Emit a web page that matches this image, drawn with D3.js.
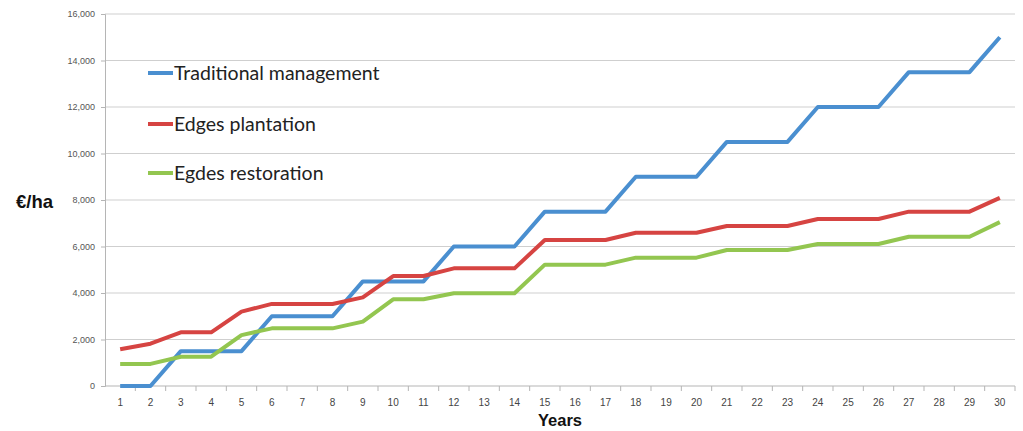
<!DOCTYPE html>
<html>
<head>
<meta charset="utf-8">
<script src="https://cdn.jsdelivr.net/npm/d3@7"></script>
<style>
  body { margin: 0; background: #fff; }
  svg { display: block; }
</style>
</head>
<body>
<div id="chart"></div>
<script>
// data
var years = d3.range(1, 31);
var traditional = [0, 0, 1500, 1500, 1500, 3000, 3000, 3000, 4500, 4500, 4500, 6000, 6000, 6000, 7500,
                   7500, 7500, 9000, 9000, 9000, 10500, 10500, 10500, 12000, 12000, 12000, 13500, 13500, 13500, 15000];
var plantation = [1580, 1820, 2310, 2310, 3200, 3530, 3530, 3530, 3810, 4730, 4730, 5060, 5060, 5060, 6280,
                  6280, 6280, 6590, 6590, 6590, 6880, 6880, 6880, 7180, 7180, 7180, 7500, 7500, 7500, 8090];
var restoration = [950, 950, 1260, 1260, 2190, 2480, 2480, 2480, 2770, 3730, 3730, 3990, 3990, 3990, 5220,
                   5220, 5220, 5520, 5520, 5520, 5850, 5850, 5850, 6110, 6110, 6110, 6420, 6420, 6420, 7050];
var series_names = ['Traditional management', 'Edges plantation', 'Egdes restoration'];
var series_colors = ['#4a8fd0', '#d64442', '#93c650'];
var y_ticks = [0, 2000, 4000, 6000, 8000, 10000, 12000, 14000, 16000];

var width = 1023, height = 431;
// note: "top" is taken by window.top, so plot edges get their own names
var plot_left = 105, plot_right = 1015, plot_top = 14, plot_bottom = 386;

var svg = d3.select('#chart').append('svg')
    .attr('width', width)
    .attr('height', height);

var x = d3.scaleBand()
    .domain(years)
    .range([plot_left, plot_right]);

var y = d3.scaleLinear()
    .domain([0, 16000])
    .range([plot_bottom, plot_top]);

// gridlines
svg.append('g')
    .selectAll('line')
    .data(y_ticks.slice(1))
    .enter()
    .append('line')
        .attr('x1', plot_left)
        .attr('x2', plot_right)
        .attr('y1', function(d) { return y(d); })
        .attr('y2', function(d) { return y(d); })
        .style('stroke', '#cfcfcf')
        .style('stroke-width', 1.2);

// y axis
var yAxis = svg.append('g')
    .attr('transform', 'translate(' + plot_left + ',0)')
    .call(d3.axisLeft(y).tickValues(y_ticks).tickSize(4).tickPadding(6)
        .tickFormat(d3.format(',')));
yAxis.select('.domain').style('stroke', '#b5b5b5');
yAxis.selectAll('.tick line').style('stroke', '#b5b5b5');
yAxis.selectAll('text')
    .style('font-family', 'Liberation Sans, Arial, sans-serif')
    .style('font-size', '9px')
    .style('fill', '#555');

// x axis: ticks on band boundaries
var xAxis = svg.append('g')
    .attr('transform', 'translate(0,' + plot_bottom + ')');
xAxis.append('line')
    .attr('x1', plot_left).attr('x2', plot_right)
    .style('stroke', '#b5b5b5');
xAxis.selectAll('.xt')
    .data(years)
    .enter()
    .append('line')
        .attr('class', 'xt')
        .attr('x1', function(d) { return x(d) + x.bandwidth(); })
        .attr('x2', function(d) { return x(d) + x.bandwidth(); })
        .attr('y1', 0).attr('y2', 5)
        .style('stroke', '#b5b5b5');
xAxis.selectAll('text')
    .data(years)
    .enter()
    .append('text')
        .attr('x', function(d) { return x(d) + x.bandwidth() / 2; })
        .attr('y', 20)
        .attr('text-anchor', 'middle')
        .style('font-family', 'Liberation Sans, Arial, sans-serif')
        .style('font-size', '10px')
        .style('fill', '#444')
        .text(function(d) { return d; });

// lines
var line = d3.line()
    .x(function(d, i) { return x(years[i]) + x.bandwidth() / 2; })
    .y(function(d) { return y(d); })
    .curve(d3.curveLinear);

[traditional, plantation, restoration].forEach(function(values, k) {
    svg.append('path')
        .datum(values)
        .attr('d', line)
        .style('fill', 'none')
        .style('stroke', series_colors[k])
        .style('stroke-width', 4)
        .style('stroke-linejoin', 'round');
});

// legend
var legend = svg.append('g')
    .selectAll('g')
    .data(series_names)
    .enter()
    .append('g')
        .attr('transform', function(d, i) { return 'translate(148,' + [73, 124, 173][i] + ')'; });
legend.append('line')
    .attr('x1', 0).attr('x2', 25)
    .style('stroke', function(d, i) { return series_colors[i]; })
    .style('stroke-width', 4);
legend.append('text')
    .attr('x', 26)
    .attr('dy', '0.38em')
    .style('font-family', 'Lato, Open Sans, sans-serif')
    .style('font-size', '19.5px')
    .style('fill', '#222')
    .text(function(d) { return d; });

// axis titles
svg.append('text')
    .attr('x', 16)
    .attr('y', 208)
    .style('font-family', 'Liberation Sans, Arial, sans-serif')
    .style('font-weight', 'bold')
    .style('font-size', '18.5px')
    .style('fill', '#111')
    .text('€/ha');

svg.append('text')
    .attr('x', 560)
    .attr('y', 426)
    .attr('text-anchor', 'middle')
    .style('font-family', 'Liberation Sans, Arial, sans-serif')
    .style('font-weight', 'bold')
    .style('font-size', '16.5px')
    .style('fill', '#111')
    .text('Years');
</script>
</body>
</html>
